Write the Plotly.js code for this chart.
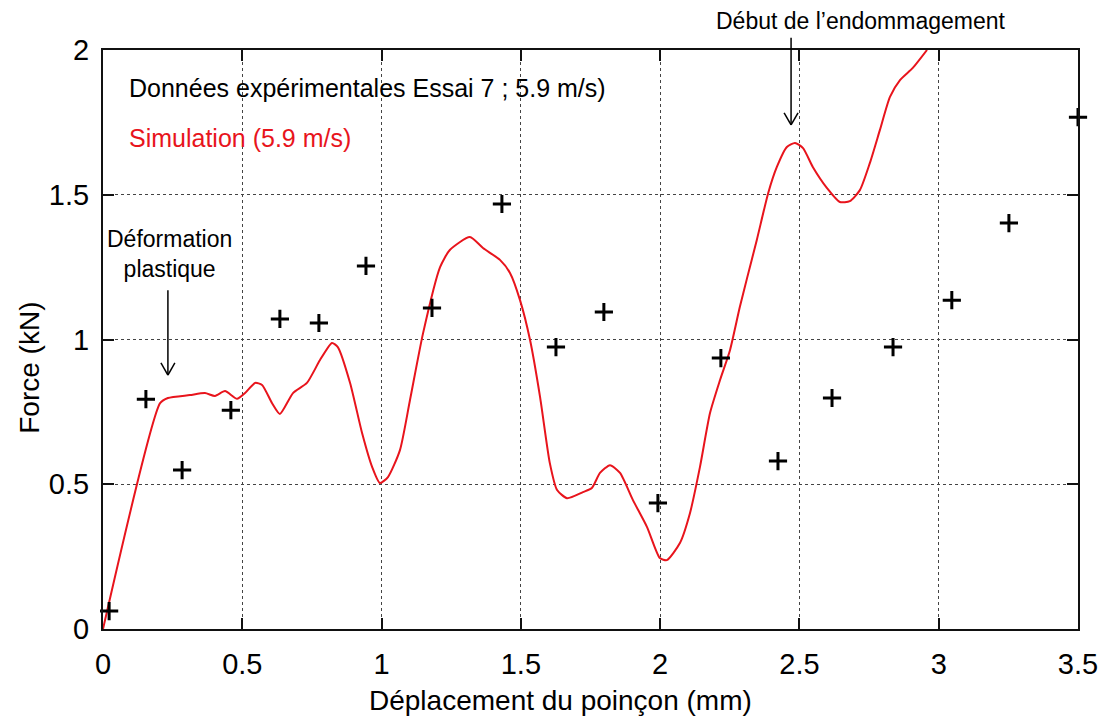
<!DOCTYPE html>
<html>
<head>
<meta charset="utf-8">
<script src="https://cdn.plot.ly/plotly-3.0.1.min.js"></script>
<style>html,body{margin:0;padding:0;background:#fff;}#chart{width:1112px;height:722px;}</style>
</head>
<body>
<div id="chart"></div>
<script>
// Experimental data (Essai 7 ; 5.9 m/s)
const expX = [0.022, 0.154, 0.284, 0.459, 0.635, 0.775, 0.944, 1.181, 1.432, 1.626, 1.798, 1.992, 2.218, 2.423, 2.617, 2.836, 3.047, 3.252, 3.500];
const expY = [0.062, 0.794, 0.549, 0.756, 1.071, 1.057, 1.254, 1.109, 1.468, 0.974, 1.095, 0.435, 0.936, 0.580, 0.798, 0.974, 1.136, 1.402, 1.768];

// Simulation (5.9 m/s)
const simX = [0.000, 0.205, 0.233, 0.312, 0.366, 0.402, 0.438, 0.481, 0.510, 0.546, 0.571, 0.607, 0.635, 0.682, 0.732, 0.779, 0.822, 0.843, 0.887, 0.930, 0.966, 0.994, 1.023, 1.066, 1.102, 1.149, 1.210, 1.245, 1.317, 1.364, 1.425, 1.461, 1.497, 1.533, 1.569, 1.604, 1.630, 1.666, 1.723, 1.755, 1.784, 1.820, 1.856, 1.902, 1.953, 1.999, 2.024, 2.071, 2.107, 2.143, 2.179, 2.215, 2.251, 2.286, 2.312, 2.347, 2.388, 2.419, 2.455, 2.484, 2.513, 2.548, 2.599, 2.645, 2.681, 2.717, 2.753, 2.789, 2.825, 2.861, 2.907, 2.958];
const simY = [0.000, 0.780, 0.798, 0.808, 0.815, 0.805, 0.822, 0.795, 0.815, 0.850, 0.843, 0.780, 0.743, 0.815, 0.850, 0.929, 0.988, 0.974, 0.850, 0.677, 0.560, 0.504, 0.525, 0.618, 0.791, 1.022, 1.250, 1.309, 1.354, 1.316, 1.275, 1.230, 1.136, 0.998, 0.801, 0.573, 0.480, 0.452, 0.473, 0.487, 0.539, 0.566, 0.539, 0.446, 0.352, 0.245, 0.238, 0.297, 0.400, 0.560, 0.746, 0.860, 0.964, 1.112, 1.212, 1.344, 1.506, 1.596, 1.665, 1.679, 1.661, 1.596, 1.523, 1.475, 1.478, 1.516, 1.610, 1.724, 1.838, 1.896, 1.938, 2.000];

const xTicks = [0, 0.5, 1, 1.5, 2, 2.5, 3, 3.5];
const xTickText = ['0', '0.5', '1', '1.5', '2', '2.5', '3', '3.5'];
const yTicks = [0, 0.5, 1, 1.5, 2];
const yTickText = ['0', '0.5', '1', '1.5', '2'];

const FONT = 'Liberation Sans, Arial, sans-serif';

const traces = [
  {
    x: simX, y: simY, type: 'scatter', mode: 'lines',
    line: {color: '#e8141c', width: 2, shape: 'spline', smoothing: 0.6},
    cliponaxis: true, hoverinfo: 'skip'
  },
  {
    x: expX, y: expY, type: 'scatter', mode: 'markers',
    marker: {symbol: 'cross-thin', size: 13, color: '#000', line: {width: 3, color: '#000'}},
    cliponaxis: false, hoverinfo: 'skip'
  }
];

// arrows (vertical line + open V head); y in paper fraction
function arrow(xTip, yTip, yTail) {
  const dx = 0.025, dy = 0.021;
  const s = {color: '#000', width: 1.5};
  return [
    {type: 'line', xref: 'x', yref: 'paper', x0: xTip, x1: xTip, y0: yTail, y1: yTip, line: s},
    {type: 'line', xref: 'x', yref: 'paper', x0: xTip - dx, x1: xTip, y0: yTip + dy, y1: yTip, line: s},
    {type: 'line', xref: 'x', yref: 'paper', x0: xTip + dx, x1: xTip, y0: yTip + dy, y1: yTip, line: s}
  ];
}
const shapes = [].concat(
  arrow(0.233, 0.4385, 0.585),
  arrow(2.47, 0.8705, 1.021)
);

const layout = {
  width: 1112, height: 722,
  margin: {l: 103, r: 34, t: 50, b: 93},
  paper_bgcolor: '#fff', plot_bgcolor: '#fff',
  showlegend: false,
  font: {family: FONT, color: '#000'},
  xaxis: {
    range: [0, 3.5], tickvals: xTicks, ticktext: xTickText,
    ticks: 'inside', ticklen: 11, tickwidth: 2, tickcolor: '#111',
    showline: true, linecolor: '#111', linewidth: 2, mirror: 'ticks',
    showgrid: true, gridcolor: '#444', griddash: 'dot', gridwidth: 1,
    zeroline: false,
    tickfont: {family: FONT, size: 29, color: '#000'},
    ticklabelstandoff: 8,
    fixedrange: true
  },
  yaxis: {
    range: [0, 2], tickvals: yTicks, ticktext: yTickText,
    ticks: 'inside', ticklen: 11, tickwidth: 2, tickcolor: '#111',
    showline: true, linecolor: '#111', linewidth: 2, mirror: 'ticks',
    showgrid: true, gridcolor: '#444', griddash: 'dot', gridwidth: 1,
    zeroline: false,
    tickfont: {family: FONT, size: 29, color: '#000'},
    ticklabelstandoff: 6,
    fixedrange: true
  },
  shapes: shapes,
  annotations: [
    {xref: 'paper', yref: 'paper', x: 0.469, y: -0.124, xanchor: 'center', yanchor: 'middle', showarrow: false,
     text: 'Déplacement du poinçon (mm)', font: {family: FONT, size: 28, color: '#000'}},
    {xref: 'paper', yref: 'paper', x: -0.075, y: 0.451, xanchor: 'center', yanchor: 'middle', showarrow: false, textangle: -90,
     text: 'Force (kN)', font: {family: FONT, size: 28, color: '#000'}},
    {xref: 'paper', yref: 'paper', x: 0.025, y: 0.934, xanchor: 'left', yanchor: 'middle', showarrow: false,
     text: 'Données expérimentales Essai 7 ; 5.9 m/s)', font: {family: FONT, size: 25, color: '#000'}},
    {xref: 'paper', yref: 'paper', x: 0.025, y: 0.848, xanchor: 'left', yanchor: 'middle', showarrow: false,
     text: 'Simulation (5.9 m/s)', font: {family: FONT, size: 25, color: '#e8141c'}},
    {xref: 'x', yref: 'y', x: 0.24, y: 1.297, xanchor: 'center', yanchor: 'middle', showarrow: false,
     text: 'Déformation<br>plastique', font: {family: FONT, size: 23, color: '#000'}},
    {xref: 'x', yref: 'paper', x: 2.72, y: 1.05, xanchor: 'center', yanchor: 'middle', showarrow: false,
     text: 'Début de l’endommagement', font: {family: FONT, size: 23, color: '#000'}}
  ]
};

Plotly.newPlot('chart', traces, layout, {displayModeBar: false, staticPlot: true});
</script>
</body>
</html>
